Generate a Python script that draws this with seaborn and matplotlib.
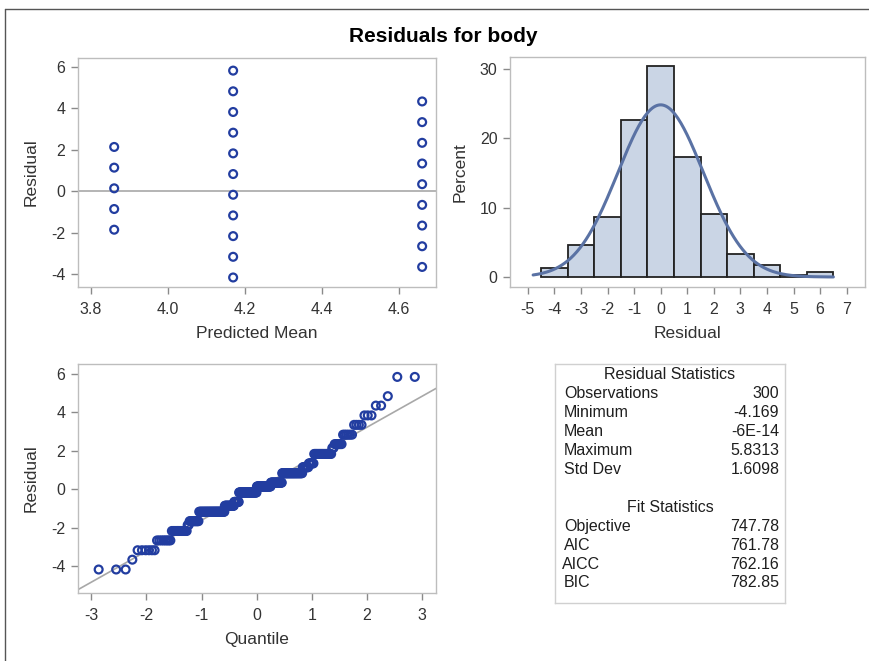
import matplotlib
matplotlib.use('Agg')
import matplotlib.pyplot as plt
import numpy as np
import seaborn as sns
from statistics import NormalDist
from matplotlib.lines import Line2D

sns.set_theme(style='white')
plt.rcParams['font.family'] = ['Liberation Sans', 'DejaVu Sans']
plt.rcParams['axes.unicode_minus'] = False

# Residual vs predicted mean (one point per distinct residual value)
pred_means = [3.86, 4.169, 4.66]
group_residuals = [
    [2.14, 1.14, 0.14, -0.86, -1.86],
    [5.83, 4.83, 3.83, 2.83, 1.83, 0.83, -0.17, -1.17, -2.17, -3.17, -4.17],
    [4.34, 3.34, 2.34, 1.34, 0.34, -0.66, -1.66, -2.66, -3.66],
]

# Histogram of residuals (percent per unit bin)
bin_centers = [-4, -3, -2, -1, 0, 1, 2, 3, 4, 5, 6]
bin_percent = [1.33, 4.67, 8.67, 22.67, 30.33, 17.33, 9.0, 3.33, 1.67, 0.33, 0.67]

# Q-Q plot: distinct residual levels and how many observations sit at each
qq_levels = [-4.17, -3.66, -3.17, -2.66, -2.17, -1.86, -1.66, -1.17, -0.86, -0.66,
             -0.17, 0.14, 0.34, 0.83, 1.14, 1.34, 1.83, 2.14, 2.34, 2.83,
             3.34, 3.83, 4.34, 4.83, 5.83]
qq_counts = [3, 1, 6, 8, 13, 2, 11, 40, 18, 10,
             38, 30, 23, 36, 9, 7, 19, 2, 6, 6,
             4, 3, 2, 1, 2]

# Statistics tables
resid_names = ['Observations', 'Minimum', 'Mean', 'Maximum', 'Std Dev']
resid_values = ['300', '-4.169', '-6E-14', '5.8313', '1.6098']
fit_names = ['Objective', 'AIC', 'AICC', 'BIC']
fit_values = ['747.78', '761.78', '762.16', '782.85']
resid_mean = 0.0
resid_std = 1.6098

marker_col = '#223da0'
fill_col = '#cad5e5'
fit_col = '#5a72a4'
frame_col = '#bdbdbd'
text_col = '#333333'
tab_col = '#1e1e1e'

W, H = 870, 661
fig = plt.figure(figsize=(W / 100, H / 100), dpi=100)


def px_axes(x0, y0, x1, y1):
    return fig.add_axes([x0 / W, 1 - y1 / H, (x1 - x0) / W, (y1 - y0) / H])


def style(ax):
    for s in ax.spines.values():
        s.set_color(frame_col)
        s.set_linewidth(1.0)
    ax.tick_params(axis='both', which='both', direction='out', length=5, width=1,
                   color='#8a8a8a', labelsize=11.5, labelcolor=text_col,
                   bottom=True, left=True)
    ax.tick_params(axis='x', pad=6)
    ax.tick_params(axis='y', pad=4)
    ax.xaxis.label.set_color(text_col)
    ax.yaxis.label.set_color(text_col)
    ax.xaxis.labelpad = 6
    ax.yaxis.labelpad = 9


# frame of the output window
fig.add_artist(Line2D([5 / W, 1], [1 - 9 / H, 1 - 9 / H], color='#555555', lw=1.0))
fig.add_artist(Line2D([5 / W, 5 / W], [0, 1 - 9 / H], color='#555555', lw=1.0))

fig.text(443 / W, 1 - 37 / H, 'Residuals for body', ha='center', va='center',
         fontsize=15, fontweight='bold', color='black')

# --- residual by predicted
ax1 = px_axes(78, 58, 436, 287)
xs, ys = [], []
for m, rs in zip(pred_means, group_residuals):
    xs += [m] * len(rs)
    ys += rs
ax1.axhline(0, color='#a8a8a8', lw=1.2, zorder=1)
sns.scatterplot(x=xs, y=ys, ax=ax1, marker='o', s=32, facecolor='none',
                edgecolor=marker_col, linewidth=1.6, zorder=3)
ax1.set_xlim(3.766, 4.696)
ax1.set_ylim(-4.63, 6.44)
ax1.set_xticks([3.8, 4.0, 4.2, 4.4, 4.6])
ax1.set_xticklabels(['3.8', '4.0', '4.2', '4.4', '4.6'])
ax1.set_yticks([-4, -2, 0, 2, 4, 6])
ax1.set_xlabel('Predicted Mean', fontsize=12.5)
ax1.set_ylabel('Residual', fontsize=12.5)
style(ax1)

# --- histogram with normal fit
ax2 = px_axes(510, 57, 865, 287)
sns.histplot(x=bin_centers, weights=bin_percent, binwidth=1, binrange=(-4.5, 6.5),
             ax=ax2, color=fill_col, alpha=1, edgecolor='#222222', linewidth=1.3)
curve_x = np.linspace(-4.8, 6.5, 200)
nd = NormalDist(resid_mean, resid_std)
curve_y = [100 * nd.pdf(v) for v in curve_x]
sns.lineplot(x=curve_x, y=curve_y, ax=ax2, color=fit_col, lw=2.2)
ax2.set_xlim(-5.67, 7.69)
ax2.set_ylim(-1.44, 31.67)
ax2.set_xticks(range(-5, 8))
ax2.set_yticks([0, 10, 20, 30])
ax2.set_xlabel('Residual', fontsize=12.5)
ax2.set_ylabel('Percent', fontsize=12.5)
style(ax2)

# --- Q-Q plot
ax3 = px_axes(78, 364, 436, 593)
sorted_res = np.repeat(qq_levels, qq_counts)
n = len(sorted_res)
std_norm = NormalDist()
quantiles = [std_norm.inv_cdf((i + 1 - 0.375) / (n + 0.25)) for i in range(n)]
ax3.axline((0, resid_mean), slope=resid_std, color='#a8a8a8', lw=1.2, zorder=1)
sns.scatterplot(x=quantiles, y=sorted_res, ax=ax3, marker='o', s=32, facecolor='none',
                edgecolor=marker_col, linewidth=1.6, zorder=3)
ax3.set_xlim(-3.24, 3.25)
ax3.set_ylim(-5.39, 6.5)
ax3.set_xticks([-3, -2, -1, 0, 1, 2, 3])
ax3.set_yticks([-4, -2, 0, 2, 4, 6])
ax3.set_xlabel('Quantile', fontsize=12.5)
ax3.set_ylabel('Residual', fontsize=12.5)
style(ax3)

# --- statistics table
ax4 = px_axes(555, 364, 785, 603)
ax4.set_xlim(0, 1)
ax4.set_ylim(12.06, -0.58)
ax4.set_xticks([])
ax4.set_yticks([])
for s in ax4.spines.values():
    s.set_color('#d0d0d0')
    s.set_linewidth(1.0)
fs = 11.5
ax4.text(0.5, 0, 'Residual Statistics', ha='center', va='center', fontsize=fs, color=tab_col)
for k, (nm, val) in enumerate(zip(resid_names, resid_values)):
    ax4.text(0.04, k + 1, nm, ha='left', va='center', fontsize=fs, color=tab_col)
    ax4.text(0.975, k + 1, val, ha='right', va='center', fontsize=fs, color=tab_col)
ax4.text(0.5, 7, 'Fit Statistics', ha='center', va='center', fontsize=fs, color=tab_col)
for k, (nm, val) in enumerate(zip(fit_names, fit_values)):
    ax4.text(0.04 if nm != 'AICC' else 0.03, k + 8, nm, ha='left', va='center',
             fontsize=fs, color=tab_col)
    ax4.text(0.975, k + 8, val, ha='right', va='center', fontsize=fs, color=tab_col)

fig.savefig('out.png', dpi=100)
